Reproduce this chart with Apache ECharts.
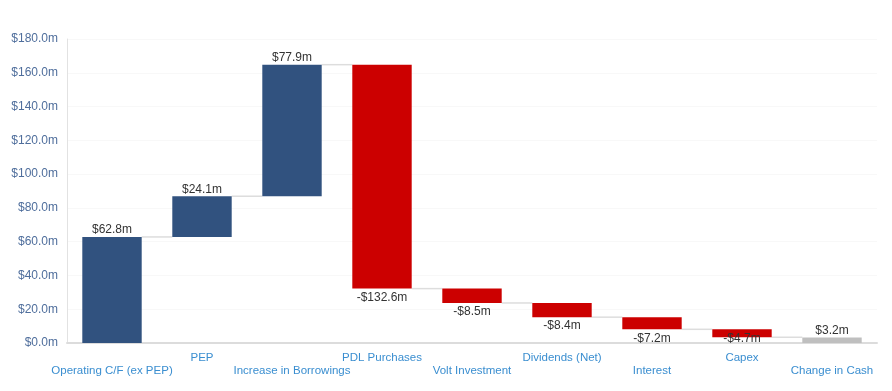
<!DOCTYPE html>
<html>
<head>
<meta charset="utf-8">
<script src="https://cdn.jsdelivr.net/npm/echarts@6/dist/echarts.min.js"></script>
<style>
html,body{margin:0;padding:0;background:#fff;}
#chart{width:892px;height:391px;}
</style>
</head>
<body>
<div id="chart"></div>
<script>
var categories = ['Operating C/F (ex PEP)', 'PEP', 'Increase in Borrowings', 'PDL Purchases', 'Volt Investment', 'Dividends (Net)', 'Interest', 'Capex', 'Change in Cash'];
var deltas = [62.8, 24.1, 77.9, -132.6, -8.5, -8.4, -7.2, -4.7, 3.2];
var isTotal = [false, false, false, false, false, false, false, false, true];
var yTicks = [0, 20, 40, 60, 80, 100, 120, 140, 160, 180];

var COL_UP = '#31527F', COL_DOWN = '#CC0000', COL_TOTAL = '#BFBFBF';

var baseData = [], barData = [], connData = [];
var running = 0;
for (var i = 0; i < categories.length; i++) {
  var d = deltas[i];
  var start, end;
  if (isTotal[i]) { start = 0; end = d; }
  else { start = running; end = running + d; running = end; }
  baseData.push(+Math.min(start, end).toFixed(2));
  var color = isTotal[i] ? COL_TOTAL : (d >= 0 ? COL_UP : COL_DOWN);
  var neg = d < 0;
  var lbl = {
    show: true,
    position: neg ? 'bottom' : 'top',
    distance: neg ? 3 : 1,
    formatter: (neg ? '-$' : '$') + Math.abs(d).toFixed(1) + 'm'
  };
  if (i === 7) lbl.offset = [0, -8];
  barData.push({ value: +Math.abs(d).toFixed(2), itemStyle: { color: color }, label: lbl });
  if (i < categories.length - 1) connData.push([i, +running.toFixed(2)]);
}

var chart = echarts.init(document.getElementById('chart'), null, { renderer: 'canvas' });
var BW = 0.66;
chart.setOption({
  animation: false,
  backgroundColor: '#fff',
  textStyle: { fontFamily: 'Liberation Sans, Arial, sans-serif' },
  grid: { left: 67, right: 15, top: 39, bottom: 48, containLabel: false },
  xAxis: {
    type: 'category',
    data: categories,
    axisLine: { show: true, lineStyle: { color: '#dcdcdc', width: 2 } },
    axisTick: { show: false },
    axisLabel: {
      interval: 0,
      margin: 8,
      color: '#3A8ED0',
      fontSize: 11.5,
      lineHeight: 13,
      formatter: function (v, idx) { return idx % 2 === 0 ? '\n' + v : v; }
    },
    splitLine: { show: false }
  },
  yAxis: {
    type: 'value',
    min: yTicks[0],
    max: yTicks[yTicks.length - 1],
    interval: yTicks[1] - yTicks[0],
    axisLine: { show: true, lineStyle: { color: '#e2e2e2', width: 1 } },
    axisTick: { show: false },
    axisLabel: {
      margin: 9,
      color: '#4F6E9C',
      fontSize: 12,
      formatter: function (v) { return '$' + v.toFixed(1) + 'm'; }
    },
    splitLine: { show: true, lineStyle: { color: '#f8f8f8', width: 1 } }
  },
  series: [
    {
      type: 'bar', stack: 'wf', barWidth: (BW * 100) + '%',
      itemStyle: { color: 'transparent' }, silent: true,
      data: baseData
    },
    {
      type: 'bar', stack: 'wf', barWidth: (BW * 100) + '%',
      label: { color: '#333', fontSize: 12 },
      data: barData
    },
    {
      type: 'custom',
      silent: true,
      z: 1,
      encode: { x: 0, y: 1 },
      data: connData,
      renderItem: function (params, api) {
        var idx = api.value(0);
        var lvl = api.value(1);
        var p1 = api.coord([idx, lvl]);
        var p2 = api.coord([idx + 1, lvl]);
        var w = api.size([1, 0])[0] * BW;
        return {
          type: 'line',
          shape: { x1: p1[0] + w / 2, y1: p1[1], x2: p2[0] - w / 2, y2: p2[1] },
          style: { stroke: '#dddddd', lineWidth: 1.5 }
        };
      }
    }
  ]
});
</script>
</body>
</html>
